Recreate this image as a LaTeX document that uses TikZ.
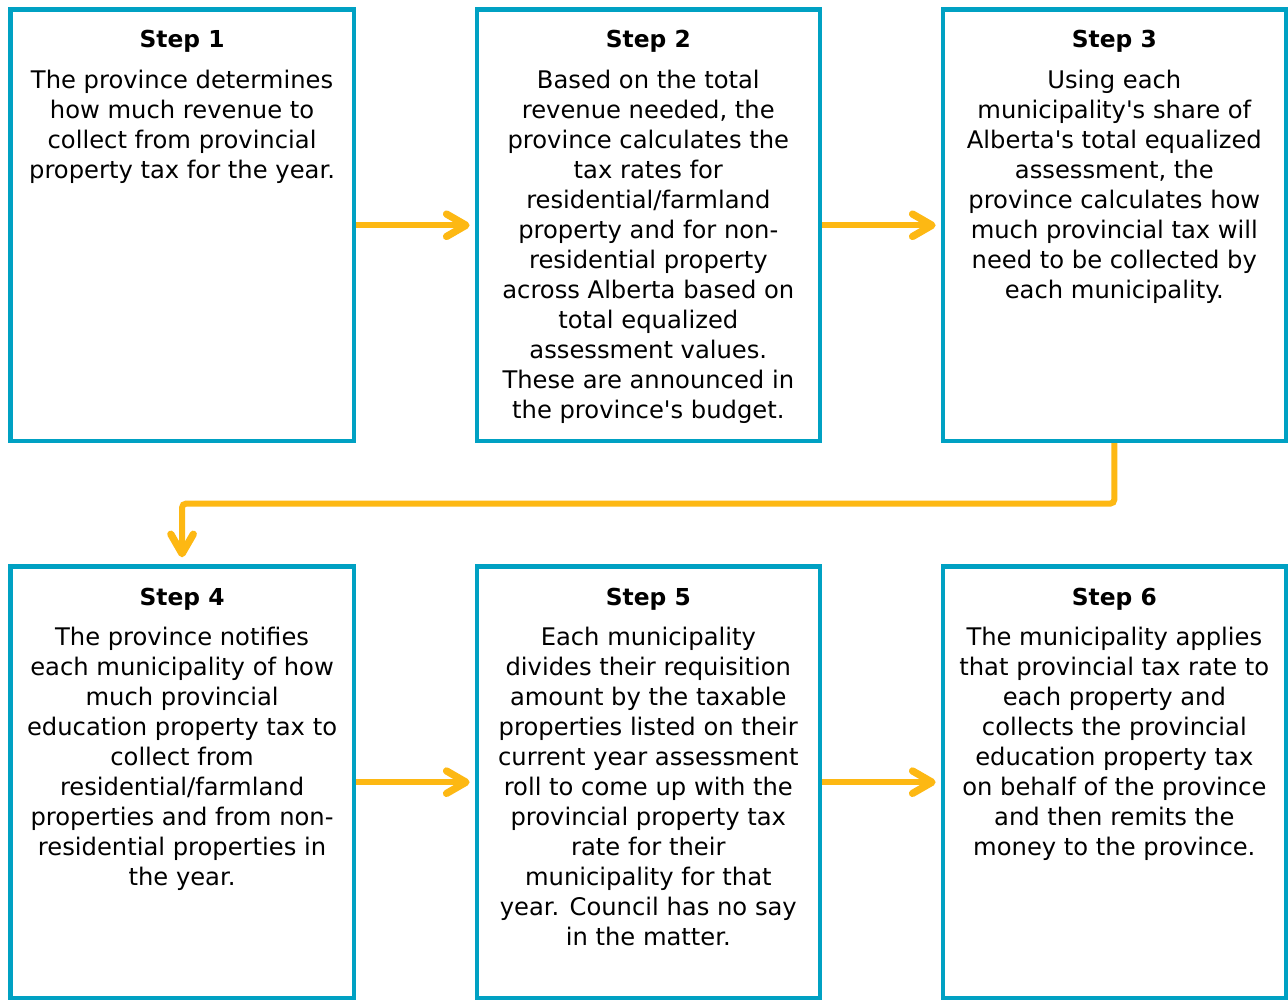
\documentclass[tikz,border=0pt]{standalone}
\usepackage{fontspec}
\setmainfont{DejaVu Sans}
\usepackage{xcolor}
\usepackage{tikz}
\usetikzlibrary{positioning, arrows.meta}

\definecolor{boxteal}{RGB}{0,161,195}
\definecolor{flowgold}{RGB}{253,184,19}
\newcommand{\bodyfont}{\fontsize{13.8pt}{17.1pt}\selectfont}
\newcommand{\titlefont}{\fontsize{13.3pt}{17.1pt}\selectfont\bfseries}
\newcommand{\apos}{\textquotesingle}

\begin{document}
\begin{tikzpicture}[
    x=0.2mm, y=-0.2mm,
    stepbox/.style={rectangle, draw=boxteal, line width=0.85mm, minimum width=68.7mm, minimum height=86.4mm, inner sep=0pt},
    steptitle/.style={anchor=base, inner sep=0pt, font=\titlefont},
    stepbody/.style={below=4.35mm of #1, anchor=north, inner sep=0pt, align=center, font=\bodyfont},
    flow/.style={-{Straight Barb[length=3.9mm, width=4.5mm, round, line width=1.45mm]}, draw=flowgold, line width=1.2mm, shorten >=1mm},
]

\fill[white] (0,0) rectangle (1288,1000);

\node[stepbox] (s1) at (182.25,225.5) {};
\node[stepbox] (s2) at (649,225.5) {};
\node[stepbox] (s3) at (1115.5,225.5) {};
\node[stepbox] (s4) at (182.25,783) {};
\node[stepbox] (s5) at (649,783) {};
\node[stepbox] (s6) at (1115.5,783) {};

\node[steptitle] (h1) at ([yshift=-8.1mm]s1.north) {Step 1};
\node[steptitle] (h2) at ([yshift=-8.1mm]s2.north) {Step 2};
\node[steptitle] (h3) at ([yshift=-8.1mm]s3.north) {Step 3};
\node[steptitle] (h4) at ([yshift=-8.2mm]s4.north) {Step 4};
\node[steptitle] (h5) at ([yshift=-8.2mm]s5.north) {Step 5};
\node[steptitle] (h6) at ([yshift=-8.2mm]s6.north) {Step 6};

\node[stepbody=h1.base] (b1) {The province determines\\how much revenue to\\collect from provincial\\property tax for the year.};
\node[stepbody=h2.base] (b2) {Based on the total\\revenue needed, the\\province calculates the\\tax rates for\\residential/farmland\\property and for non-\\residential property\\across Alberta based on\\total equalized\\assessment values.\\These are announced in\\the province\apos s budget.};
\node[stepbody=h3.base] (b3) {Using each\\municipality\apos s share of\\Alberta\apos s total equalized\\assessment, the\\province calculates how\\much provincial tax will\\need to be collected by\\each municipality.};
\node[stepbody=h4.base] (b4) {The province notifies\\each municipality of how\\much provincial\\education property tax to\\collect from\\residential/farmland\\properties and from non-\\residential properties in\\the year.};
\node[stepbody=h5.base] (b5) {Each municipality\\divides their requisition\\amount by the taxable\\properties listed on their\\current year assessment\\roll to come up with the\\provincial property tax\\rate for their\\municipality for that\\year. Council has no say\\in the matter.};
\node[stepbody=h6.base] (b6) {The municipality applies\\that provincial tax rate to\\each property and\\collects the provincial\\education property tax\\on behalf of the province\\and then remits the\\money to the province.};

\draw[flow] (s1) -- (s2);
\draw[flow] (s2) -- (s3);
\draw[flow, rounded corners=0.8mm, shorten >=1.4mm] (s3.south) -- ++(0,60.5) -| (s4.north);
\draw[flow] (s4) -- (s5);
\draw[flow] (s5) -- (s6);

\useasboundingbox (0,0) rectangle (1288,1000);

\end{tikzpicture}
\end{document}
